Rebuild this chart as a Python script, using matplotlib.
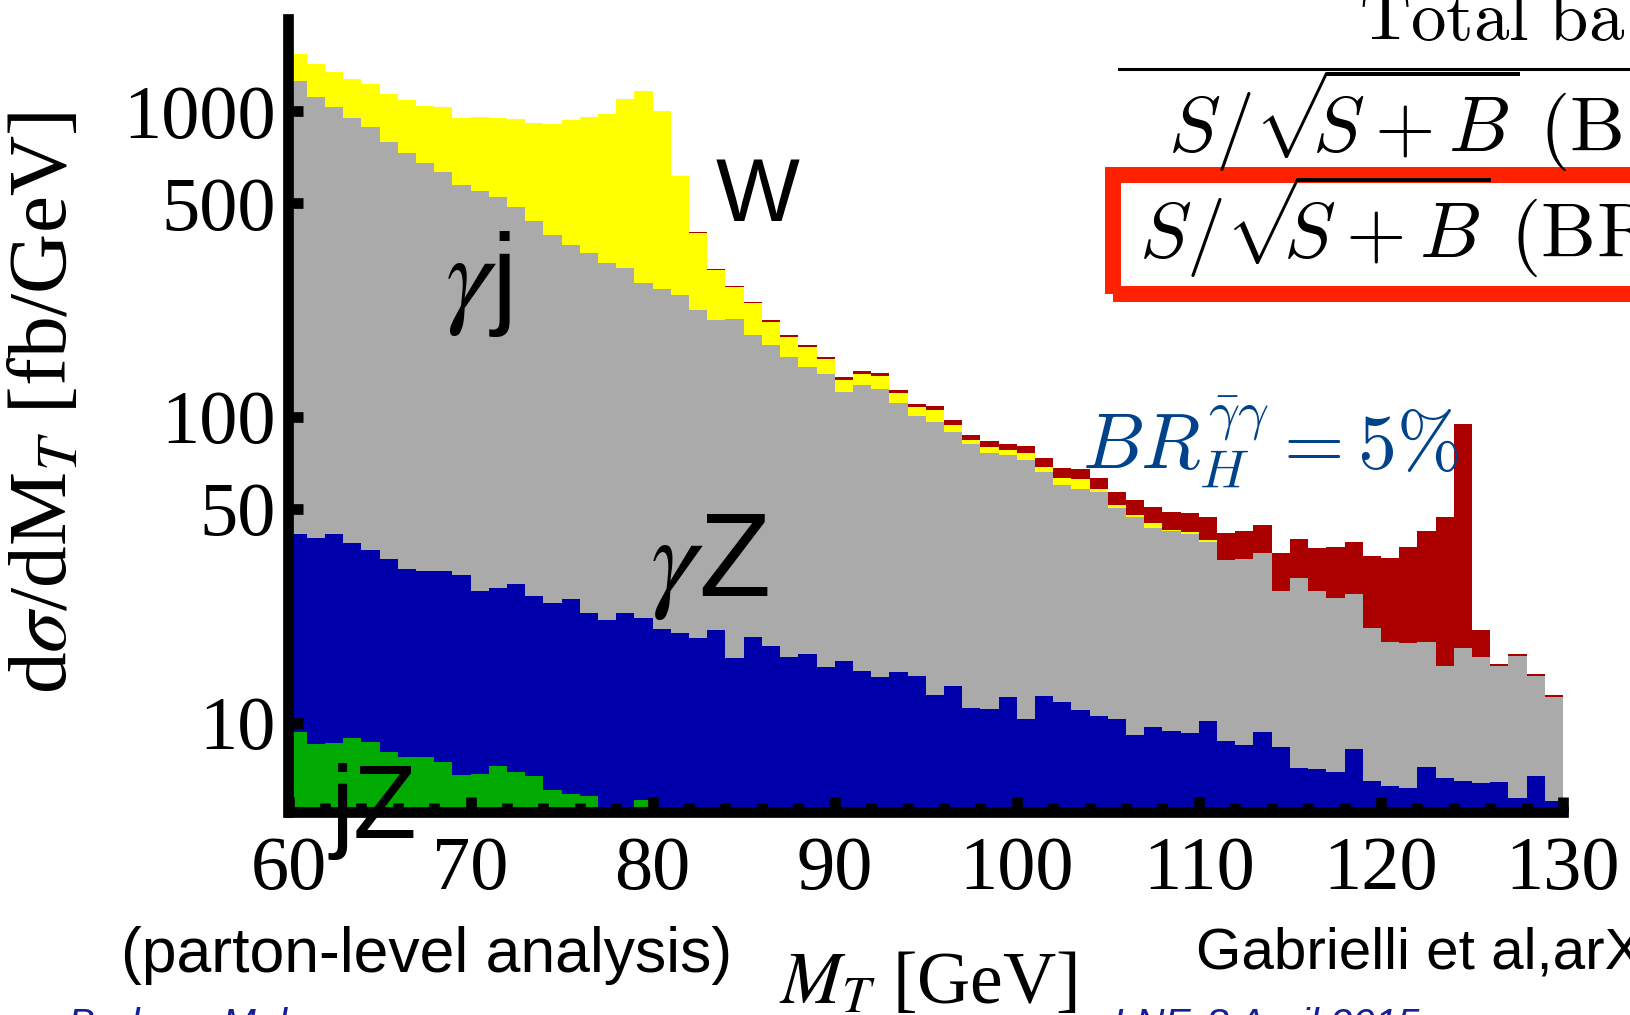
import numpy as np
import matplotlib
matplotlib.use("Agg")
import matplotlib.pyplot as plt
from matplotlib.patches import Rectangle
from matplotlib.lines import Line2D
from matplotlib.ticker import NullLocator

# 1 GeV bins from 60 to 130 GeV
edges = np.arange(60, 131, 1)

# top of each stacked layer in fb/GeV, read bin by bin off the plot
# (layers are cumulative: jZ, +gammaZ, +gammaj, +W, +signal)
jz_top = [9.35, 8.52, 8.56, 8.89, 8.62, 8.04, 7.70, 7.74, 7.42, 6.75,
          6.80, 7.22, 6.88, 6.70, 6.00, 5.85, 5.74, 4.5, 4.5, 5.59] + [4.5] * 50

gz_top = [41.4, 40.3, 41.4, 38.7, 36.8, 34.4, 31.7, 31.2, 31.4, 30.4,
          26.9, 27.5, 28.5, 26.0, 24.6, 25.3, 22.8, 21.7, 22.9, 21.9,
          20.3, 19.7, 18.9, 20.1, 16.3, 19.0, 17.8, 16.4, 16.7, 15.2,
          15.9, 14.8, 14.1, 14.6, 14.2, 12.3, 13.2, 11.2, 11.1, 12.1,
          10.25, 12.2, 11.65, 11.0, 10.5, 10.3, 9.11, 9.70, 9.42, 9.23,
          10.15, 8.73, 8.45, 9.30, 8.35, 7.09, 7.06, 6.88, 8.22, 6.42,
          6.18, 6.10, 7.18, 6.60, 6.46, 6.35, 6.37, 5.66, 6.70, 5.53]

gj_top = [1250, 1111, 1031, 951, 887, 794, 729, 676, 633, 571,
          548, 522, 486, 437, 393, 364, 344, 318, 307, 273,
          261, 250, 224, 208, 209.6, 185.8, 172.3, 157.1, 145.7, 138.2,
          120.7, 126.9, 123.5, 111.1, 100.5, 96.5, 89.1, 81.2, 76.1, 75.1,
          72.4, 65.8, 59.8, 58.2, 56.6, 50.5, 46.9, 43.3, 42.4, 41.3,
          39.0, 34.1, 34.3, 35.8, 27.0, 29.8, 26.9, 25.5, 26.3, 20.4,
          18.3, 18.2, 18.3, 15.3, 17.6, 16.4, 15.3, 16.5, 14.2, 12.1]

w_top = [1540, 1420, 1340, 1275, 1230, 1135, 1085, 1035, 1030, 948,
         953, 946, 939, 916, 907, 935, 953, 980, 1092, 1160,
         998, 613, 398, 302, 266, 235.5, 204.8, 183, 169.4, 154,
         131.8, 138.2, 135.8, 119.8, 107.3, 104.9, 94.2, 83.7, 79.8, 77.8,
         76.4, 68.6, 63.3, 62.6, 57.9, 51.4, 47.7, 45.0, 42.7, 42.1,
         39.6, 34.1, 34.3, 35.8, 27.0, 29.8, 26.9, 25.5, 26.3, 20.4,
         18.3, 18.2, 18.3, 15.3, 17.6, 16.4, 15.3, 16.5, 14.2, 12.1]

sig_top = [1540, 1420, 1340, 1275, 1230, 1135, 1085, 1035, 1030, 948,
           953, 946, 939, 916, 907, 935, 953, 980, 1092, 1160,
           998, 615, 401, 304.5, 268, 237, 207, 185, 172, 157,
           134.5, 141, 138.6, 122.8, 110.3, 108.6, 97.8, 87.1, 83.5, 81.4,
           80.4, 73.1, 68.0, 67.3, 63.3, 56.6, 53.4, 50.8, 49.0, 48.4,
           47.0, 41.7, 42.3, 44.4, 35.8, 39.9, 37.1, 37.6, 39.1, 35.0,
           34.5, 37.5, 42.3, 47.2, 94.6, 20.1, 15.5, 16.7, 14.4, 12.3]

xtick_vals = [60, 70, 80, 90, 100, 110, 120, 130]
ytick_vals = [10, 50, 100, 500, 1000]
ytick_labels = ["10", "50", "100", "500", "1000"]

plt.rcParams['font.family'] = ['Liberation Serif', 'DejaVu Serif']

W, H = 1631, 1015
fig = plt.figure(figsize=(W / 100, H / 100), dpi=100)
ax = fig.add_axes([288.5 / W, 1 - 812 / H, (1563 - 288.5) / W, (812 - 19) / H])
ax.set_yscale('log')

layers = [(sig_top, "#aa0000"), (w_top, "#ffff00"), (gj_top, "#aaaaaa"),
          (gz_top, "#0000aa"), (jz_top, "#00aa00")]
for vals, col in layers:
    ax.stairs(vals, edges, baseline=1, fill=True, color=col, linewidth=0)

ax.set_xlim(60, 130)
ax.set_ylim(5.1, 2000)

for s in ['top', 'right']:
    ax.spines[s].set_visible(False)
for s in ['left', 'bottom']:
    ax.spines[s].set_linewidth(7.7)

ax.set_xticks(xtick_vals, [str(v) for v in xtick_vals])
ax.set_xticks(np.arange(60, 131, 2), minor=True)
ax.set_yticks(ytick_vals, ytick_labels)
ax.yaxis.set_minor_locator(NullLocator())
ax.tick_params(which='both', direction='in', width=7.7, labelsize=55)
ax.tick_params(which='major', length=11)
ax.tick_params(which='minor', length=6.2)
ax.tick_params(axis='x', pad=17)
ax.tick_params(axis='y', pad=9)

ax.set_ylabel(r"d$\sigma$/dM$_T$ [fb/GeV]", fontsize=60, math_fontfamily='stix', va='center')
ax.yaxis.set_label_coords(-0.1895, 0.5158)
ax.set_xlabel(r"$M_T$ [GeV]", fontsize=53, math_fontfamily='stix', va='baseline')
ax.xaxis.set_label_coords(0.502, -0.2409)

# process labels
sans = ['Liberation Sans', 'DejaVu Sans']
ax.text(83.48, 437, "W", family=sans, fontsize=64, zorder=5)
ax.text(68.6, 219, r"$\gamma$j", family=sans, math_fontfamily='stix', fontsize=82, zorder=5)
ax.text(79.86, 26.0, r"$\gamma$Z", family=sans, math_fontfamily='stix', fontsize=85, zorder=5)
ax.text(62.28, 4.2, "jZ", family=sans, fontsize=75, zorder=5)
ax.text(103.58, 67.6, r"$BR_H^{\bar{\gamma}\gamma}=5\%$", color="#00438a",
        fontsize=56, math_fontfamily='cm', zorder=5)

# table in the top right corner
fig.text(1359 / W, 1 - 40 / H, r"$\mathrm{Total\ ba}$", fontsize=51, math_fontfamily='cm')
fig.add_artist(Line2D([1119 / W, 1.0], [1 - 69 / H, 1 - 69 / H], color='black', lw=2.2))
fig.text(1168 / W, 1 - 152 / H, r"$S/\sqrt{\!\!S+B}\ (\mathrm{B}$", fontsize=56, math_fontfamily='cm')
fig.text(1139 / W, 1 - 258 / H, r"$S/\sqrt{\!\!S+B}\ (\mathrm{BR}$", fontsize=56, math_fontfamily='cm')
fig.add_artist(Rectangle((1112.5 / W, 1 - 294 / H), 0.5, (294 - 174.7) / H, fill=False,
                         edgecolor="#ff2200", linewidth=11.5, transform=fig.transFigure))

fig.text(121 / W, 1 - 972 / H, "(parton-level analysis)", family=sans, fontsize=45)
fig.text(1196 / W, 1 - 968 / H, "Gabrielli et al,arX", family=sans, fontsize=42)
fig.text(68 / W, 1 - 1037 / H, "Barbara Mele", family=sans, style='italic',
         fontsize=29, color="#14209a")
fig.text(1113 / W, 1 - 1037 / H, "LNF, 8 April 2015", family=sans, style='italic',
         fontsize=29, color="#14209a")

fig.savefig("out.png", dpi=100)
